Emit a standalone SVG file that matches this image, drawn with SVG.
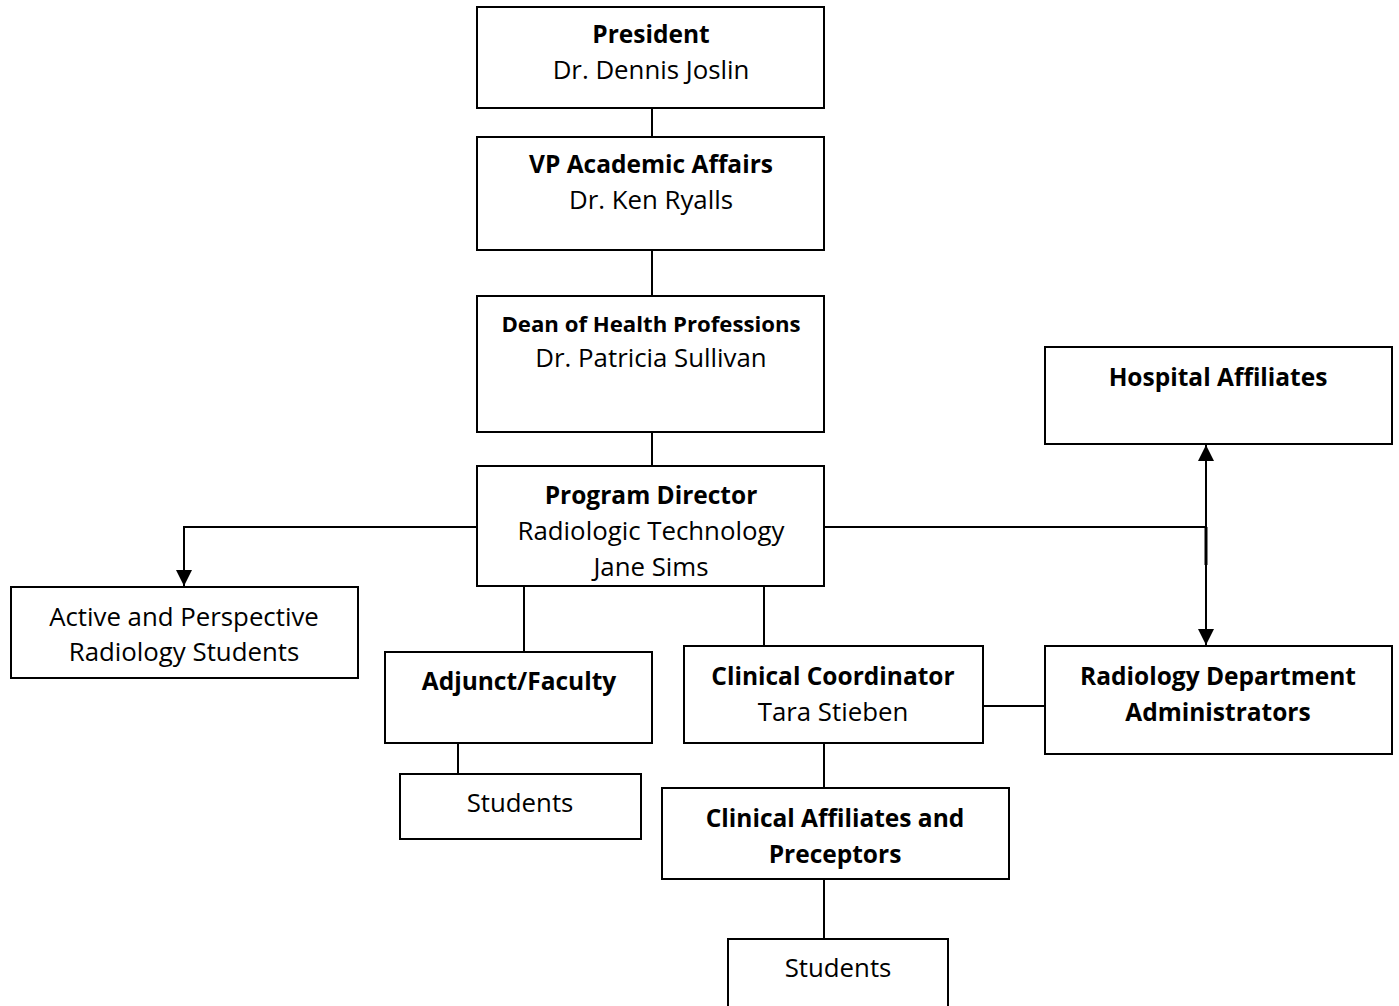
<svg xmlns="http://www.w3.org/2000/svg" width="1399" height="1006" viewBox="0 0 1399 1006">
<style>
rect{fill:#fff;stroke:#000;stroke-width:2}
text{font-family:"Open Sans","Liberation Sans",sans-serif;font-size:25.8px;text-anchor:middle;fill:#000}
.b{font-weight:bold;font-size:24.5px}
.s{font-size:22.2px}
.c{fill:none;stroke:#000;stroke-width:2}
</style>
<defs>
<marker id="ah2" viewBox="0 0 10 10" refX="10" refY="5" markerWidth="16" markerHeight="17" markerUnits="userSpaceOnUse" orient="auto-start-reverse">
<path d="M0,0L10,5L0,10z" fill="#000"/>
</marker>
</defs>
<g id="connectors">
<path class="c" d="M652,108V137"/>
<path class="c" d="M652,250V296"/>
<path class="c" d="M652,432V466"/>
<path class="c" d="M477,527H184V586" marker-end="url(#ah2)"/>
<path class="c" d="M824,527H1206"/>
<path class="c" d="M1206,445V645" marker-start="url(#ah2)" marker-end="url(#ah2)"/>
<path class="c" d="M1206,527V565" style="stroke-width:3"/>
<path class="c" d="M524,586V651"/>
<path class="c" d="M764,586V646"/>
<path class="c" d="M983,706H1045"/>
<path class="c" d="M458,743V774"/>
<path class="c" d="M824,743V788"/>
<path class="c" d="M824,879V943"/>
</g>
<g id="president"><rect x="477" y="7" width="347" height="101"/><text x="651" y="43" class="b">President</text><text x="651" y="79">Dr. Dennis Joslin</text></g>
<g id="vp"><rect x="477" y="137" width="347" height="113"/><text x="651" y="173" class="b">VP Academic Affairs</text><text x="651" y="209">Dr. Ken Ryalls</text></g>
<g id="dean"><rect x="477" y="296" width="347" height="136"/><text x="651" y="332" class="b s">Dean of Health Professions</text><text x="651" y="367">Dr. Patricia Sullivan</text></g>
<g id="program-director"><rect x="477" y="466" width="347" height="120"/><text x="651" y="504" class="b">Program Director</text><text x="651" y="540">Radiologic Technology</text><text x="651" y="576">Jane Sims</text></g>
<g id="hospital-affiliates"><rect x="1045" y="347" width="347" height="97"/><text x="1218" y="386" class="b">Hospital Affiliates</text></g>
<g id="active-students"><rect x="11" y="587" width="347" height="91"/><text x="184" y="626">Active and Perspective</text><text x="184" y="661">Radiology Students</text></g>
<g id="adjunct"><rect x="385" y="652" width="267" height="91"/><text x="519" y="690" class="b">Adjunct/Faculty</text></g>
<g id="clinical-coordinator"><rect x="684" y="646" width="299" height="97"/><text x="833" y="685" class="b">Clinical Coordinator</text><text x="833" y="721">Tara Stieben</text></g>
<g id="radiology-admin"><rect x="1045" y="646" width="347" height="108"/><text x="1218" y="685" class="b">Radiology Department</text><text x="1218" y="721" class="b">Administrators</text></g>
<g id="students-left"><rect x="400" y="774" width="241" height="65"/><text x="520" y="812">Students</text></g>
<g id="clinical-affiliates"><rect x="662" y="788" width="347" height="91"/><text x="835" y="827" class="b">Clinical Affiliates and</text><text x="835" y="863" class="b">Preceptors</text></g>
<g id="students-bottom"><rect x="728" y="939" width="220" height="80"/><text x="838" y="977">Students</text></g>
</svg>
